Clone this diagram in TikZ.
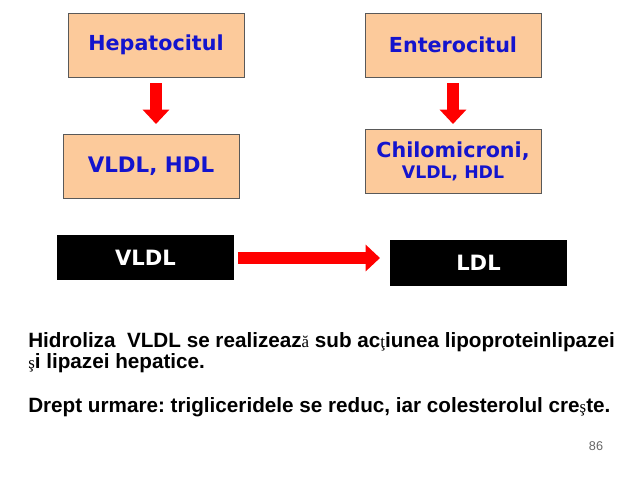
\documentclass[tikz,border=0pt]{standalone}
\usepackage{fontspec}
\setmainfont{Liberation Sans}
\newfontfamily\boxfont{DejaVu Sans}
\newfontfamily\glyphfont{Liberation Serif}
\usepackage{tikz}
\usetikzlibrary{arrows.meta,positioning}
\frenchspacing

\definecolor{peach}{RGB}{252,202,155}
\definecolor{boxblue}{RGB}{20,20,205}
\newcommand{\rg}[1]{{\glyphfont\mdseries\fontsize{12}{12}\selectfont #1}}

\begin{document}
\begin{tikzpicture}[
    x=0.025cm, y=-0.025cm,
    cell/.style={draw=black!65, fill=peach, minimum width=4.4cm, minimum height=1.6cm,
        align=center, text=boxblue, font=\boxfont\bfseries\fontsize{14.7}{17}\selectfont},
    blackcell/.style={fill=black, minimum width=4.4cm, minimum height=1.13cm,
        text=white, font=\boxfont\bfseries\fontsize{15}{17}\selectfont},
    blockarrow/.style={draw=red, line width=0.28cm, -{Triangle[length=0.36cm, width=0.65cm]}}
]
\useasboundingbox (0,0) rectangle (640,480);
% top row
\node[cell] (hep) at (156,45) {Hepatocitul};
\node[cell] (ent) at (453,45) {Enterocitul};
% second row
\node[cell, font=\boxfont\bfseries\fontsize{15.2}{18}\selectfont] (vh) at (151,166) {VLDL, HDL};
\node[cell] (chi) at (453,161) {Chilomicroni,\\[-2pt]{\fontsize{12.3}{14}\selectfont VLDL, HDL}};
% VLDL to LDL
\node[blackcell] (vldl) at (145.5,257.5) {VLDL};
\node[blackcell] (ldl) at (478.5,263) {LDL};
\coordinate (hepend) at (156,124);
\coordinate (entend) at (453,124);
\coordinate (ldlend) at (380,258);
\draw[blockarrow, shorten <=0.15cm] (hep.south) -- (hepend);
\draw[blockarrow, shorten <=0.15cm] (ent.south) -- (entend);
\draw[blockarrow, shorten <=0.1cm] (vldl.east |- ldlend) -- (ldlend);
% note
\node[anchor=base west, inner sep=0pt, align=left, font=\bfseries\fontsize{14.7}{15.6}\selectfont] (note) at (28,412)
    {Hidroliza\ \ VLDL se realizeaz\rg{ă} sub ac\rg{ţ}iunea lipoproteinlipazei\\
     \rg{ş}i lipazei hepatice.\\[15pt]
     Drept urmare: trigliceridele se reduc, iar colesterolul cre\rg{ş}te.};
\node[text=black!60, font=\fontsize{9}{10}\selectfont] (page) at (596,446) {86};
\end{tikzpicture}
\end{document}
